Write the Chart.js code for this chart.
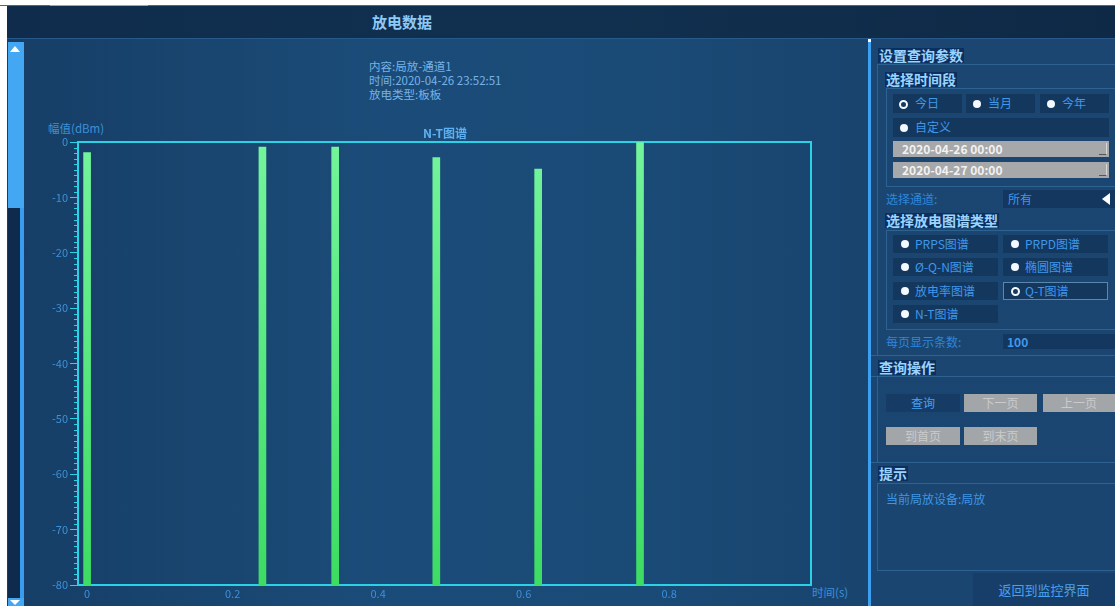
<!DOCTYPE html>
<html><head><meta charset="utf-8">
<script src="https://cdn.jsdelivr.net/npm/chart.js@4/dist/chart.umd.min.js"></script>
<style>
html,body{margin:0;padding:0;background:#fff;width:1115px;height:606px;overflow:hidden;font-family:"Noto Sans CJK SC","Noto Sans",sans-serif;}
.a{position:absolute;white-space:nowrap;}
.hd{font-weight:bold;font-size:14px;color:#9ad4ff;background:#0c2f5e;line-height:15px;padding:0 1px;}
.rad{background:#14375e;color:#3f98ea;font-size:12px;line-height:18px;}
.dot{position:absolute;width:8px;height:8px;border-radius:50%;background:#f4f8ff;}
.ring{position:absolute;width:5px;height:5px;border-radius:50%;border:2px solid #f4f8ff;background:#173a60;}
.lbl{color:#2f86d6;font-size:12px;}
.grey{background:#a3a6a9;color:#c9cbcd;font-size:12px;text-align:center;line-height:18px;}
.line{position:absolute;background:#2d6291;}
</style></head>
<body>
<!-- header -->
<div class="a" style="left:0;top:5px;width:1115px;height:1px;background:#2d6fb2"></div>
<div class="a" style="left:50px;top:5px;width:98px;height:2px;background:#3ccfe0"></div>
<div class="a" style="left:7px;top:6px;width:1108px;height:32px;background:linear-gradient(90deg,#0f2c4d,#11304f 50%,#0e2946)"></div>
<div class="a" style="left:7px;top:38px;width:1108px;height:1px;background:#27598a"></div>
<div class="a" style="left:372px;top:13px;font-size:15px;font-weight:bold;color:#8ccaf8;line-height:18px">放电数据</div>
<!-- main area -->
<div class="a" style="left:7px;top:39px;width:861px;height:567px;background:linear-gradient(90deg,#163e66,#1b4c79 45%,#1a4a76 75%,#18446e)"></div>
<!-- scrollbar -->
<div class="a" style="left:8px;top:42px;width:12px;height:564px;background:#0e2b4d"></div>
<div class="a" style="left:20px;top:42px;width:4px;height:564px;background:#3a9cf0"></div>
<div class="a" style="left:8px;top:42px;width:16px;height:166px;background:#43a7f4"></div>
<div class="a" style="left:10px;top:46px;width:0;height:0;border-left:5px solid transparent;border-right:5px solid transparent;border-bottom:6px solid #fff"></div>
<div class="a" style="left:8px;top:598px;width:16px;height:8px;background:#43a7f4"></div>
<div class="a" style="left:10px;top:600px;width:0;height:0;border-left:5px solid transparent;border-right:5px solid transparent;border-top:5px solid #fff"></div>
<!-- chart texts -->
<div class="a" style="left:369px;top:59px;font-size:11.5px;line-height:14px;color:#78b2e6">内容:局放-通道1<br>时间:2020-04-26 23:52:51<br>放电类型:板板</div>
<div class="a" style="left:48px;top:121px;font-size:11.5px;line-height:14px;color:#3e8fd8">幅值(dBm)</div>
<div class="a" style="left:812px;top:585px;font-size:11.5px;line-height:14px;color:#3e8fd8">时间(s)</div>
<canvas id="c" width="840" height="566" style="position:absolute;left:25px;top:40px;width:840px;height:566px"></canvas>
<!-- right panel -->
<div class="a" style="left:868px;top:42px;width:3px;height:564px;background:#3d9ff0"></div>
<div class="a" style="left:871px;top:39px;width:244px;height:567px;background:linear-gradient(180deg,#1b4672,#1a4570)"></div>
<div class="a hd" style="left:878px;top:48px">设置查询参数</div>
<div class="line" style="left:877px;top:64px;width:238px;height:1px"></div>
<div class="line" style="left:877px;top:64px;width:1px;height:291px"></div>
<div class="a hd" style="left:885px;top:72px">选择时间段</div>
<div class="line" style="left:886px;top:88px;width:229px;height:1px"></div>
<div class="line" style="left:886px;top:88px;width:1px;height:98px"></div>
<div class="line" style="left:886px;top:186px;width:229px;height:1px"></div>
<div class="a rad" style="left:893px;top:94px;width:69px;height:19px"><span class="ring" style="left:6px;top:6px"></span><span style="position:absolute;left:22px">今日</span></div>
<div class="a rad" style="left:966px;top:94px;width:69px;height:19px"><span class="dot" style="left:7px;top:6px"></span><span style="position:absolute;left:22px">当月</span></div>
<div class="a rad" style="left:1040px;top:94px;width:69px;height:19px"><span class="dot" style="left:7px;top:6px"></span><span style="position:absolute;left:22px">今年</span></div>
<div class="a rad" style="left:893px;top:118px;width:216px;height:19px"><span class="dot" style="left:7px;top:6px"></span><span style="position:absolute;left:22px">自定义</span></div>
<div class="a" style="left:893px;top:141px;width:216px;height:16px;background:#a7a8a9;color:#f2f2f2;font-size:12px;font-weight:bold;line-height:16px"><span style="margin-left:9px">2020-04-26 00:00</span><span style="position:absolute;right:2px;top:2px;width:7px;height:11px;border-right:1px solid #d8d8d8;border-bottom:1px solid #555"></span></div>
<div class="a" style="left:893px;top:162px;width:216px;height:16px;background:#a7a8a9;color:#f2f2f2;font-size:12px;font-weight:bold;line-height:16px"><span style="margin-left:9px">2020-04-27 00:00</span><span style="position:absolute;right:2px;top:2px;width:7px;height:11px;border-right:1px solid #d8d8d8;border-bottom:1px solid #555"></span></div>
<div class="a lbl" style="left:886px;top:191px;line-height:16px">选择通道:</div>
<div class="a" style="left:1003px;top:190px;width:112px;height:18px;background:#143760;color:#3f98ea;font-size:12px;line-height:18px"><span style="margin-left:5px">所有</span></div>
<div class="a" style="left:1102px;top:193px;width:0;height:0;border-top:6px solid transparent;border-bottom:6px solid transparent;border-right:8px solid #fff"></div>
<div class="a hd" style="left:885px;top:213px">选择放电图谱类型</div>
<div class="line" style="left:886px;top:230px;width:229px;height:1px"></div>
<div class="line" style="left:886px;top:230px;width:1px;height:99px"></div>
<div class="line" style="left:886px;top:329px;width:229px;height:1px"></div>
<div class="a rad" style="left:893px;top:235px;width:105px;height:18px"><span class="dot" style="left:8px;top:5px"></span><span style="position:absolute;left:22px">PRPS图谱</span></div>
<div class="a rad" style="left:1003px;top:235px;width:105px;height:18px"><span class="dot" style="left:8px;top:5px"></span><span style="position:absolute;left:22px">PRPD图谱</span></div>
<div class="a rad" style="left:893px;top:258px;width:105px;height:18px"><span class="dot" style="left:8px;top:5px"></span><span style="position:absolute;left:22px">Ø-Q-N图谱</span></div>
<div class="a rad" style="left:1003px;top:258px;width:105px;height:18px"><span class="dot" style="left:8px;top:5px"></span><span style="position:absolute;left:22px">椭圆图谱</span></div>
<div class="a rad" style="left:893px;top:282px;width:105px;height:18px"><span class="dot" style="left:8px;top:5px"></span><span style="position:absolute;left:22px">放电率图谱</span></div>
<div class="a rad" style="left:1003px;top:282px;width:103px;height:16px;border:1px solid #5d86ad;line-height:16px"><span class="ring" style="left:7px;top:4px"></span><span style="position:absolute;left:21px">Q-T图谱</span></div>
<div class="a rad" style="left:893px;top:305px;width:105px;height:18px"><span class="dot" style="left:8px;top:5px"></span><span style="position:absolute;left:22px">N-T图谱</span></div>
<div class="a lbl" style="left:886px;top:334px;line-height:16px">每页显示条数:</div>
<div class="a" style="left:1003px;top:334px;width:112px;height:15px;background:#143760;color:#3f98ea;font-size:12px;font-weight:bold;line-height:15px"><span style="margin-left:4px">100</span></div>
<div class="line" style="left:871px;top:355px;width:244px;height:1px"></div>
<div class="a hd" style="left:878px;top:360px">查询操作</div>
<div class="line" style="left:871px;top:376px;width:244px;height:1px"></div>
<div class="line" style="left:877px;top:376px;width:1px;height:86px"></div>
<div class="a" style="left:886px;top:394px;width:74px;height:18px;background:#163b64;color:#4aa0f0;font-size:12px;text-align:center;line-height:18px">查询</div>
<div class="a grey" style="left:964px;top:394px;width:73px;height:18px">下一页</div>
<div class="a grey" style="left:1043px;top:394px;width:72px;height:18px">上一页</div>
<div class="a grey" style="left:886px;top:427px;width:74px;height:18px">到首页</div>
<div class="a grey" style="left:964px;top:427px;width:73px;height:18px">到末页</div>
<div class="line" style="left:871px;top:462px;width:244px;height:1px"></div>
<div class="a hd" style="left:878px;top:466px">提示</div>
<div class="line" style="left:877px;top:483px;width:238px;height:1px"></div>
<div class="line" style="left:877px;top:483px;width:1px;height:87px"></div>
<div class="a" style="left:886px;top:491px;font-size:12px;line-height:15px;color:#3f95e4">当前局放设备:局放</div>
<div class="line" style="left:877px;top:570px;width:238px;height:1px"></div>
<div class="a" style="left:973px;top:573px;width:142px;height:33px;background:#173e68;color:#4aa0f0;font-size:13px;line-height:33px;text-align:center">返回到监控界面</div>

<script>
// ---- data ----
const times = [0.0, 0.241, 0.341, 0.480, 0.620, 0.760];          // 时间(s)
const amplitudes = [-1.9, -0.9, -0.9, -2.8, -4.9, 0.0];           // 幅值(dBm)
const baseline = -80;
const yTicks = [0, -10, -20, -30, -40, -50, -60, -70, -80];
const xTicks = [0, 0.2, 0.4, 0.6, 0.8];
const xRange = [-0.0125, 0.995];
const chartTitle = 'N-T图谱';

const CYAN = '#2bd2e6';
const TICKC = '#3e8fd8';
const FONT = '"Noto Sans CJK SC","Noto Sans",sans-serif';

const frame = {
  id: 'frame',
  beforeDatasetsDraw(chart) {
    const {ctx, chartArea: a} = chart;
    ctx.save();
    ctx.strokeStyle = CYAN; ctx.lineWidth = 2;
    ctx.beginPath();
    ctx.moveTo(a.left, a.top); ctx.lineTo(a.right, a.top); ctx.lineTo(a.right, a.bottom);
    ctx.stroke();
    const y = chart.scales.y;
    ctx.lineWidth = 1;
    for (let v = baseline; v <= 0; v++) {
      if (v % 10 === 0) continue;
      const py = Math.round(y.getPixelForValue(v)) + 0.5;
      ctx.beginPath(); ctx.moveTo(a.left - 4, py); ctx.lineTo(a.left, py); ctx.stroke();
    }
    ctx.restore();
  }
};

new Chart(document.getElementById('c'), {
  type: 'bar',
  data: {
    datasets: [{
      data: times.map((t, i) => ({x: t, y: [baseline, amplitudes[i]]})),
      barThickness: 7,
      borderWidth: 0,
      backgroundColor(ctx) {
        const a = ctx.chart.chartArea;
        if (!a) return '#52e676';
        const g = ctx.chart.ctx.createLinearGradient(0, a.top, 0, a.bottom);
        g.addColorStop(0, '#74f49c');
        g.addColorStop(1, '#3ddc62');
        return g;
      }
    }]
  },
  options: {
    responsive: false,
    devicePixelRatio: 1,
    animation: false,
    layout: {padding: 0},
    plugins: {
      legend: {display: false},
      tooltip: {enabled: false},
      title: {
        display: true, text: chartTitle, color: '#5eb0f0',
        font: {family: FONT, size: 12, lineHeight: 1.2},
        padding: {top: 86, bottom: 1.6}
      }
    },
    scales: {
      x: {
        type: 'linear', min: xRange[0], max: xRange[1], offset: false,
        afterBuildTicks(s) { s.ticks = xTicks.map(v => ({value: v})); },
        afterFit(s) { s.height = 21; },
        ticks: {color: TICKC, font: {family: FONT, size: 11}, padding: 2, maxRotation: 0,
                callback: v => String(v)},
        grid: {display: true, offset: false, drawOnChartArea: false, drawTicks: false},
        border: {display: true, color: CYAN, width: 2}
      },
      y: {
        type: 'linear', min: baseline, max: 0,
        afterBuildTicks(s) { s.ticks = yTicks.map(v => ({value: v})); },
        afterFit(s) { s.width = 53; },
        ticks: {color: TICKC, font: {family: FONT, size: 11}, padding: 2},
        grid: {display: true, drawOnChartArea: false, drawTicks: true, tickLength: 8, tickColor: CYAN, tickWidth: 1},
        border: {display: true, color: CYAN, width: 2}
      },
      yRight: {
        position: 'right', display: true,
        afterFit(s) { s.width = 54; },
        ticks: {display: false},
        grid: {display: false, drawTicks: false},
        border: {display: false}
      }
    }
  },
  plugins: [frame]
});
</script>
</body></html>
